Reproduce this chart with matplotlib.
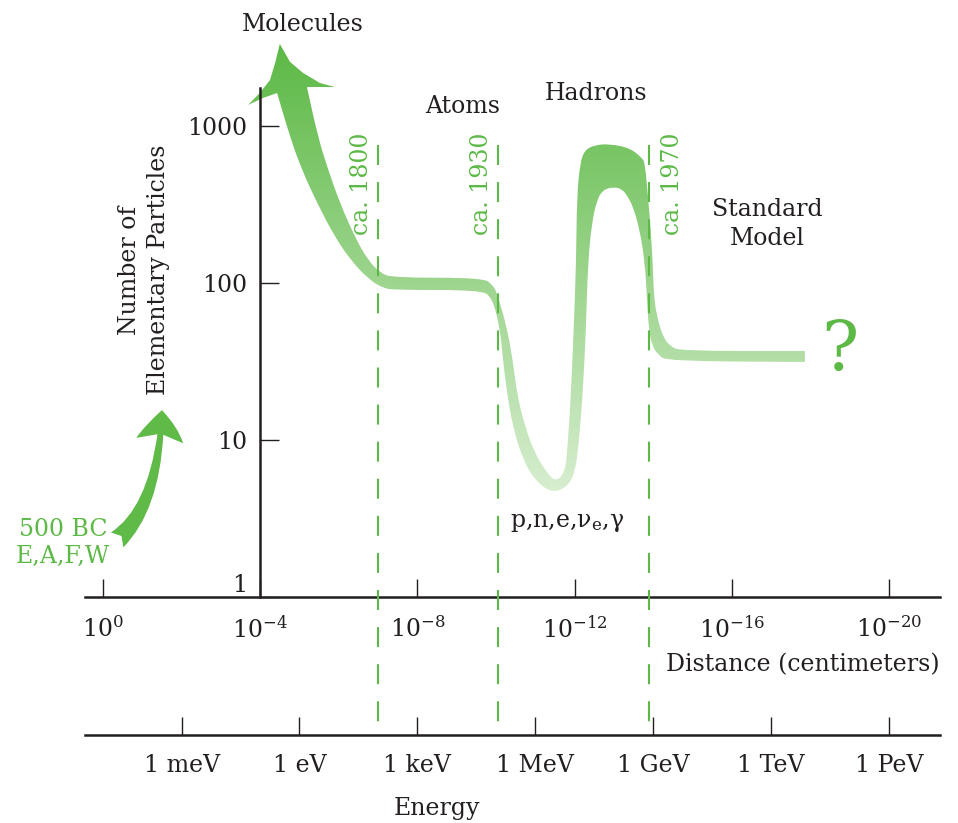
import numpy as np
import matplotlib
matplotlib.use("Agg")
import matplotlib.pyplot as plt
from matplotlib.path import Path
from matplotlib.patches import PathPatch, FancyArrowPatch
from matplotlib.colors import LinearSegmentedColormap
from matplotlib.ticker import NullLocator

plt.rcParams['font.family'] = 'DejaVu Serif'
plt.rcParams['mathtext.fontset'] = 'dejavuserif'

# x is the distance exponent: x means 10^-x cm
dist_ticks = [0, 4, 8, 12, 16, 20]
dist_labels = ['$10^{0}$', '$10^{-4}$', '$10^{-8}$', '$10^{-12}$', '$10^{-16}$', '$10^{-20}$']
count_ticks = [1, 10, 100, 1000]
count_labels = ['1', '10', '100', '1000']
energy_ticks = [-3, 0, 3, 6, 9, 12, 15]  # log10(E / eV)
energy_labels = ['1 meV', '1 eV', '1 keV', '1 MeV', '1 GeV', '1 TeV', '1 PeV']

eras = [7.0, 10.05, 13.9]
era_labels = ['ca. 1800', 'ca. 1930', 'ca. 1970']

# band: upper (left-hand) edge
top_x = [5.19, 5.47, 5.73, 6.03, 6.41, 6.74, 7.05, 7.38, 9.67, 9.92, 10.03, 10.28,
         10.43, 10.53, 10.74, 10.99, 11.25, 11.50, 11.76, 11.83, 11.91, 11.98, 12.04,
         12.06, 12.14, 12.26, 12.52, 12.90, 13.41, 13.72, 13.79, 13.87, 13.94, 13.99,
         14.02, 14.10, 14.25, 14.43, 14.68, 17.86]
top_n = [1770, 851, 525, 323, 196, 140, 116, 108, 108, 97, 86, 52,
         32, 19.9, 12.1, 8.26, 6.44, 5.40, 6.16, 9.57, 19.9, 52, 134,
         353, 581, 703, 757, 768, 724, 625, 581, 353, 218, 134,
         81.5, 60.7, 45.3, 39.7, 36.9, 36.9]
# band: lower (right-hand) edge
bot_x = [4.43, 4.76, 5.06, 5.45, 5.90, 6.36, 6.79, 7.12, 7.43, 9.59, 9.90, 10.10,
         10.18, 10.28, 10.43, 10.69, 10.99, 11.42, 11.81, 12.01, 12.11, 12.21, 12.29,
         12.34, 12.44, 12.57, 12.72, 12.98, 13.21, 13.36, 13.49, 13.66, 13.79, 13.84,
         13.89, 13.97, 14.12, 14.38, 17.86]
bot_n = [1622, 851, 525, 323, 196, 134, 104.5, 92.9, 90.2, 90.2, 81.5, 52,
         32.3, 19.9, 12.1, 7.46, 5.56, 4.59, 5.02, 6.16, 9.57, 19.9, 50.2,
         134, 241, 338, 391, 409, 397, 353, 305, 218, 134, 81.5,
         50.2, 40.3, 34.8, 31.8, 31.4]
# arrow head on top of the band ("Molecules")
head_x = [4.07, 3.69, 3.99, 4.25, 4.38, 4.50, 4.76, 5.09, 5.52, 5.90]
head_n = [1507, 1361, 1622, 1963, 2518, 3327, 2557, 2178, 1879, 1770]

green = '#5cb946'
ink = '#231f20'
fs = 17


def smooth_edge(xs, ns):
    # quadratic B-spline through midpoints, so the outline has no kinks
    pts = list(zip(xs, ns))
    mids = [((a[0] + b[0]) / 2, np.sqrt(a[1] * b[1])) for a, b in zip(pts[:-1], pts[1:])]
    verts = [pts[0], mids[0]]
    codes = [Path.LINETO, Path.LINETO]
    for p, m in zip(pts[1:-1], mids[1:]):
        verts += [p, m]
        codes += [Path.CURVE3, Path.CURVE3]
    verts.append(pts[-1])
    codes.append(Path.LINETO)
    return verts, codes


fig = plt.figure(figsize=(9.58, 8.23), dpi=100)
ax = fig.add_axes([85 / 958, 1 - 597 / 823, 855 / 958, 577 / 823])
ax.set_yscale('log')
ax.set_xlim(-0.458, 21.30)
ax.set_ylim(1, 10 ** 3.675)
ax.set_autoscale_on(False)

for s in ['top', 'right']:
    ax.spines[s].set_visible(False)
ax.spines['left'].set_position(('data', 4))
ax.spines['left'].set_bounds(1, 1740)
ax.spines['left'].set_linewidth(1.8)
ax.spines['bottom'].set_linewidth(1.8)
ax.spines['left'].set_color(ink)
ax.spines['bottom'].set_color(ink)

ax.set_yticks(count_ticks, count_labels)
ax.yaxis.set_minor_locator(NullLocator())
ax.tick_params(axis='y', direction='in', length=14, width=1, pad=9,
               labelsize=fs, colors=ink)
ax.get_yticklabels()[0].set_verticalalignment('bottom')
ax.set_xticks(dist_ticks, dist_labels)
ax.tick_params(axis='x', direction='in', length=13, width=1, pad=14,
               labelsize=fs, colors=ink)

sec = ax.secondary_xaxis(-0.239, functions=(lambda x: x - 5, lambda e: e + 5))
sec.set_xticks(energy_ticks, energy_labels)
sec.tick_params(direction='in', length=13, width=1, pad=14, labelsize=fs,
                colors=ink)
sec.spines['bottom'].set_linewidth(1.8)
sec.spines['bottom'].set_color(ink)

# band outline, filled with a vertical green gradient
tv, tc = smooth_edge(top_x, top_n)
bv, bc = smooth_edge(bot_x[::-1], bot_n[::-1])
verts = tv + bv + list(zip(head_x, head_n)) + [tv[0]]
codes = [Path.MOVETO] + tc[1:] + bc + [Path.LINETO] * len(head_x) + [Path.CLOSEPOLY]
band = PathPatch(Path(verts, codes), facecolor='none', edgecolor='none')
ax.add_patch(band)
cmap = LinearSegmentedColormap.from_list(
    'band', [(0, '#d8eed0'), (0.177, '#d8eed0'), (0.958, '#5cb945'), (1, '#5cb945')])
grad = np.linspace(0, 1, 512).reshape(-1, 1)
im = ax.imshow(grad, cmap=cmap, origin='lower', aspect='auto',
               extent=(0, 1, 0, 1), transform=ax.transAxes, zorder=2)
im.set_clip_path(band)

# era lines
for x in eras:
    ax.plot([x, x], [0.783, -0.227], transform=ax.get_xaxis_transform(),
            color=green, lw=1.5, ls=(0, (9.6, 8.2)), clip_on=False, zorder=5)
for x, lab, dx in zip(eras, era_labels, [-0.41, -0.41, 0.59]):
    ax.text(x + dx, 427, lab, rotation=90, ha='center', va='center',
            color=green, fontsize=fs)

# 500 BC arrow
arr = FancyArrowPatch((0.36, 2.31), (1.50, 15.5),
                      arrowstyle='fancy,head_length=2.2,head_width=3.4,tail_width=1.4',
                      connectionstyle='angle3,angleA=40,angleB=88',
                      mutation_scale=10, color='#5fba47', lw=0,
                      shrinkA=0, shrinkB=0, clip_on=False, zorder=3)
ax.add_patch(arr)

ax.text(-1.02, 2.21, '500 BC\nE,A,F,W', ha='center', va='center', color=green,
        fontsize=fs, linespacing=1.25)
ax.text(1.04, 121, 'Number of\nElementary Particles', rotation=90, ha='center',
        va='center', color=ink, fontsize=fs, linespacing=1.3)
ax.text(5.09, 4400, 'Molecules', ha='center', va='center', color=ink, fontsize=fs)
ax.text(9.16, 1340, 'Atoms', ha='center', va='center', color=ink, fontsize=fs)
ax.text(12.54, 1600, 'Hadrons', ha='center', va='center', color=ink, fontsize=fs)
ax.text(16.9, 238, 'Standard\nModel', ha='center', va='center', color=ink,
        fontsize=fs, linespacing=1.3)
ax.text(10.36, 3.0, r'p,n,e,ν$_\mathrm{e}$,γ', ha='left', va='center', color=ink,
        fontsize=fs)
ax.text(18.75, 36.4, '?', ha='center', va='center', color=green, fontsize=50)
ax.text(1.0, -0.118, 'Distance (centimeters)', transform=ax.transAxes,
        ha='right', va='center', color=ink, fontsize=fs)
ax.text(0.412, -0.366, 'Energy', transform=ax.transAxes, ha='center',
        va='center', color=ink, fontsize=fs)

fig.savefig('out.png', dpi=100)
